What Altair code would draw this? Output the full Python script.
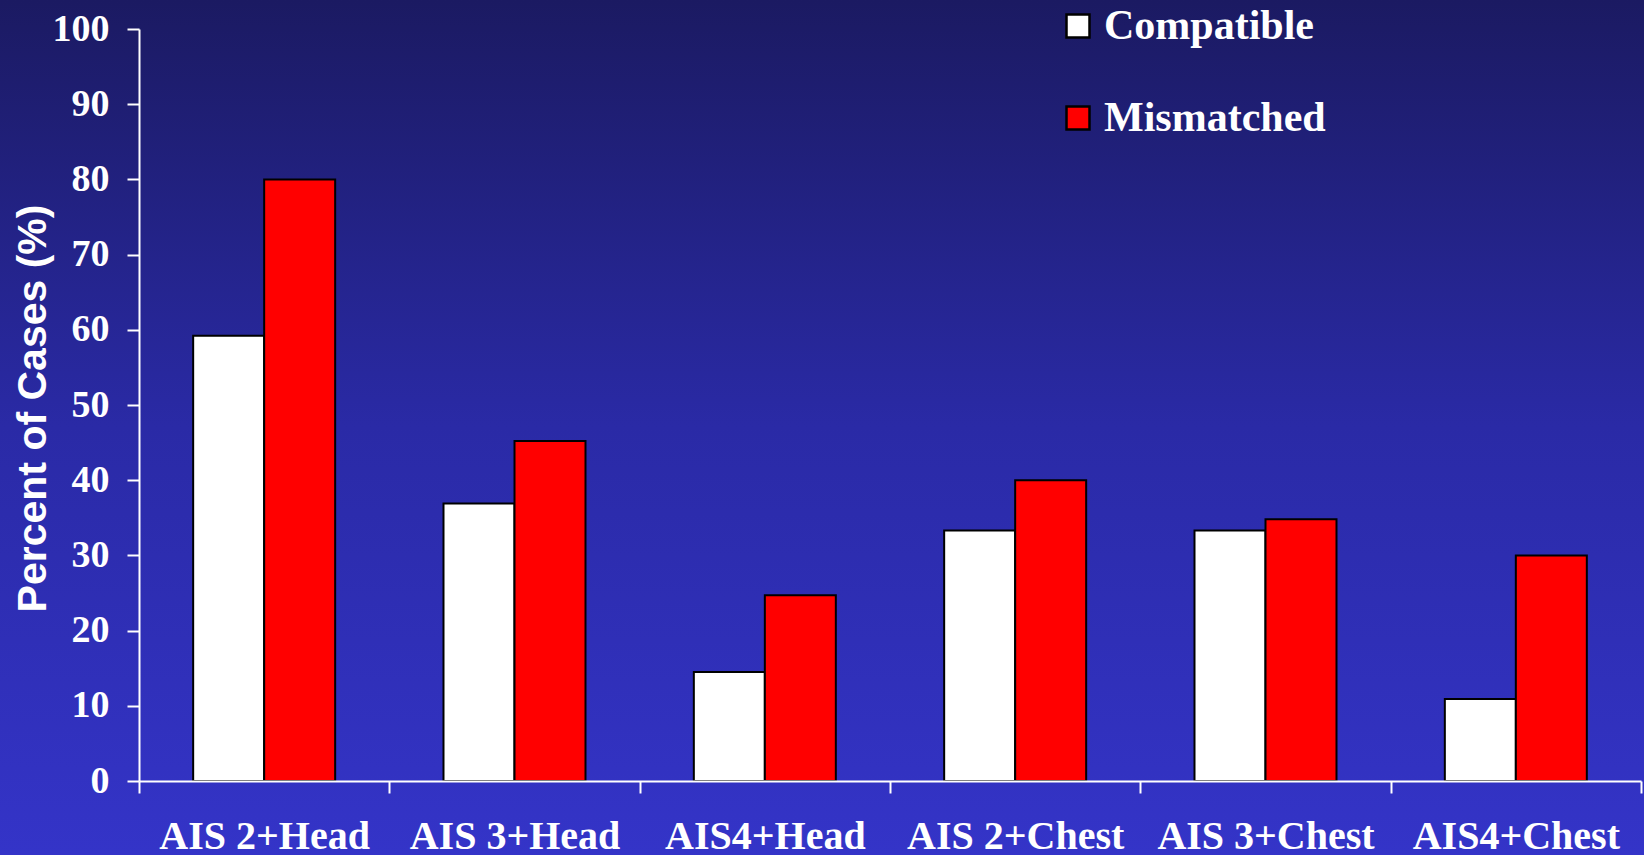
import altair as alt
import pandas as pd

# Injury categories and the share of cases (%) in each compatibility group
categories = ["AIS 2+Head", "AIS 3+Head", "AIS4+Head", "AIS 2+Chest", "AIS 3+Chest", "AIS4+Chest"]
groups = ["Compatible", "Mismatched"]
compatible = [59.2, 36.9, 14.5, 33.3, 33.3, 10.9]
mismatched = [80.0, 45.2, 24.7, 40.0, 34.8, 30.0]
y_ticks = [0, 10, 20, 30, 40, 50, 60, 70, 80, 90, 100]

rows = []
for cat, c, m in zip(categories, compatible, mismatched):
    rows.append({"injury": cat, "group": "Compatible", "percent": c})
    rows.append({"injury": cat, "group": "Mismatched", "percent": m})
df = pd.DataFrame(rows)

W, H = 1502, 752
PAD = {"left": 139, "top": 29, "right": 3, "bottom": 74}

SERIF = "Liberation Serif"
SANS = "Liberation Sans"

# Slide-style vertical gradient behind the whole figure
backdrop = alt.Chart(pd.DataFrame({"k": [0]})).mark_rect(
    color=alt.Gradient(
        gradient="linear", x1=0, y1=0, x2=0, y2=1,
        stops=[
            alt.GradientStop(color="#1b1a62", offset=0),
            alt.GradientStop(color="#2a2aa6", offset=0.5),
            alt.GradientStop(color="#3434c8", offset=1),
        ],
    )
).encode(
    x=alt.value(-PAD["left"]),
    x2=alt.value(W + PAD["right"]),
    y=alt.value(-PAD["top"]),
    y2=alt.value(H + PAD["bottom"]),
)

bars = alt.Chart(df).mark_bar(stroke="black", strokeWidth=2).encode(
    x=alt.X(
        "injury:N",
        sort=categories,
        scale=alt.Scale(paddingInner=0, paddingOuter=0),
        axis=alt.Axis(
            title=None,
            labelAngle=0,
            tickBand="extent",
            labelFont=SERIF,
            labelFontWeight="bold",
            labelFontSize=40,
            labelColor="white",
            labelBaseline="alphabetic",
            labelPadding=55,
            labelLimit=0,
            domainColor="white",
            domainWidth=2,
            tickColor="white",
            tickWidth=2,
            tickSize=12,
            zindex=1,
        ),
    ),
    xOffset=alt.XOffset(
        "group:N",
        sort=groups,
        scale=alt.Scale(paddingInner=0, paddingOuter=0.763),
    ),
    y=alt.Y(
        "percent:Q",
        scale=alt.Scale(domain=[0, 100], nice=False),
        axis=alt.Axis(
            values=y_ticks,
            title="Percent of Cases (%)",
            titleFont=SANS,
            titleFontWeight="bold",
            titleFontSize=41,
            titleColor="white",
            titleAngle=-90,
            titleX=-94,
            titleY=379,
            titleAlign="center",
            titleBaseline="alphabetic",
            labelFont=SERIF,
            labelFontWeight="bold",
            labelFontSize=38,
            labelColor="white",
            labelPadding=18,
            domainColor="white",
            domainWidth=2,
            tickColor="white",
            tickWidth=2,
            tickSize=12,
            grid=False,
            zindex=1,
        ),
    ),
    color=alt.Color(
        "group:N",
        sort=groups,
        scale=alt.Scale(domain=groups, range=["#ffffff", "#ff0000"]),
        legend=alt.Legend(
            title=None,
            orient="none",
            legendX=918,
            legendY=-24,
            direction="vertical",
            padding=0,
            symbolType="square",
            symbolSize=529,
            symbolOpacity=1,
            symbolStrokeColor="black",
            symbolStrokeWidth=2.5,
            labelFont=SERIF,
            labelFontWeight="bold",
            labelFontSize=42,
            labelColor="white",
            labelOffset=5,
            labelLimit=0,
            rowPadding=50,
        ),
    ),
)

chart = alt.layer(backdrop, bars).properties(
    width=W,
    height=H,
    padding=PAD,
    autosize=alt.AutoSizeParams(type="none"),
    background="#26268c",
).configure_view(stroke=None)

chart.save("out.html", embed_options={"renderer": "svg", "actions": False})
